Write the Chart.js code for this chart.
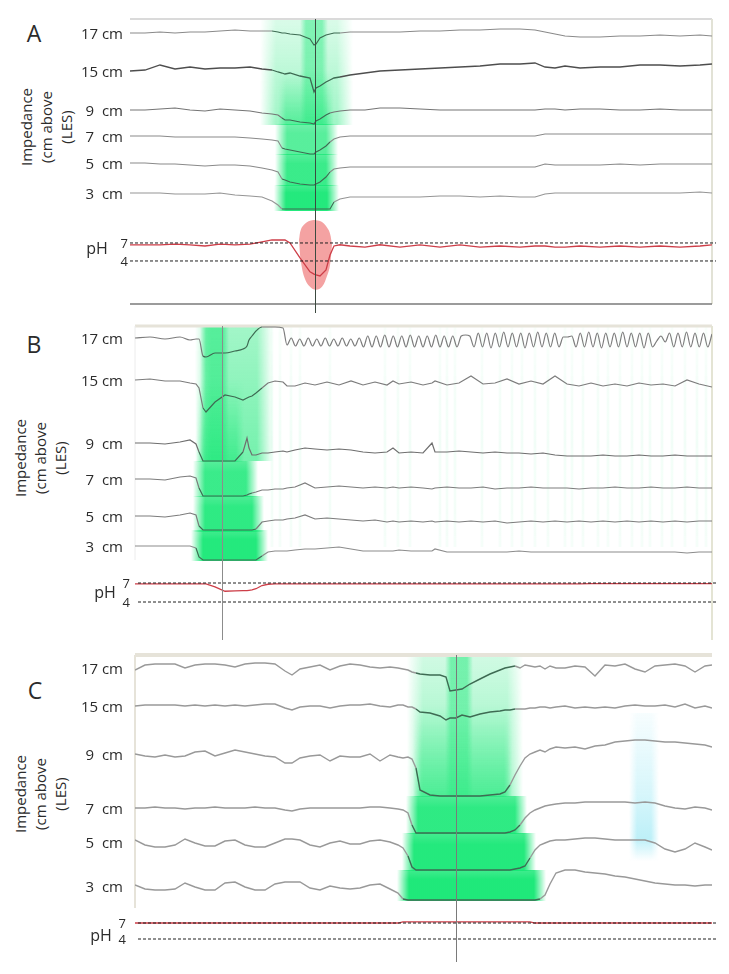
<!DOCTYPE html>
<html>
<head>
<meta charset="utf-8">
<title>Impedance-pH tracings</title>
<script src="https://cdn.jsdelivr.net/npm/chart.js@4.4.1/dist/chart.umd.min.js"></script>
<style>
  html, body { margin: 0; padding: 0; background: #fff; }
  #page { position: relative; width: 729px; height: 974px; overflow: hidden;
          font-family: "Open Sans", "Noto Sans", sans-serif; color: #2b2b2b; }
  #page canvas { position: absolute; left: 0; }
  .lbl { position: absolute; white-space: pre; font-size: 15px; line-height: 18px; transform: translateY(-50%); }
  .chan { width: 80px; text-align: right; }
  .tick { width: 40px; text-align: right; font-size: 13px; }
  .ph { font-size: 16px; transform: translate(-50%, -50%); }
  .letter { position: absolute; font-size: 23px; line-height: 26px; transform: translate(-50%, -50%); }
  .ytitle { position: absolute; width: 110px; font-size: 15px; line-height: 20px; text-align: center;
            transform: translate(-50%, -50%) rotate(-90deg); white-space: nowrap; }
</style>
</head>
<body>
<div id="page">
  <div class="letter" style="left:34px; top:33px">A</div>
  <div class="letter" style="left:34px; top:344px">B</div>
  <div class="letter" style="left:35px; top:690px">C</div>
  <div class="ytitle" style="left:46px; top:127px">Impedance<br>(cm above<br>(LES)</div>
  <div class="ytitle" style="left:40px; top:458px">Impedance<br>(cm above<br>(LES)</div>
  <div class="ytitle" style="left:40px; top:794px">Impedance<br>(cm above<br>(LES)</div>
</div>
<script>
const channels = ['17 cm', '15 cm', '9  cm', '7  cm', '5  cm', '3  cm'];
const pHTicks = [7, 4];

// ---- panel A (time in s, traces = deflection from channel baseline)
const timeA = [0,1.5,3,4.5,6,7.5,9,10.5,12,13.2,14.2,14.8,15.2,15.5,16,17,18,18.4,18.6,19,19.6,20,20.4,21,22,23.5,25,27,29,31,33,35,37,39,40.5,41.5,42.5,43.5,45,47,49,51,53,55,57,58.2];
const a17 = [0,0,1,0,1,1,2,3,2,2,2,1,0,0,-1,-2,-6,-12,-11,-5,-2,-1,0,0,1,1,1,1,2,2,3,3,4,4,3,1,-1,-3,-4,-4,-3,-3,-2,-3,-2,-3];
const a15 = [0,1,6,2,4,2,3,3,4,2,1,-1,-2,-3,-2,-5,-7,-21,-17,-15,-11,-9,-7,-6,-4,-2,0,1,2,3,4,5,7,7,8,4,3,5,3,4,4,6,6,5,6,7];
const a9 = [0,0,1,2,0,-1,1,0,-1,-3,-4,-5,-8,-10,-10,-12,-13,-14,-11,-9,-5,-3,-2,-1,0,0,2,2,1,0,0,0,0,0,0,1,1,0,1,1,0,0,1,0,0,0];
const a7 = [0,0,0,-1,-1,-1,-1,-1,-2,-3,-4,-5,-12,-13,-14,-16,-18,-18,-16,-14,-10,-6,-3,-1,0,0,0,0,0,0,0,0,0,0,0,2,2,2,2,2,2,2,2,2,2,2];
const a5 = [0,0,-1,-1,-2,-3,-2,-2,-3,-5,-7,-9,-16,-17,-19,-21,-22,-22,-21,-19,-14,-9,-6,-5,-4,-4,-4,-4,-4,-4,-4,-4,-4,-4,-4,-1,-2,-2,-2,-2,-1,-2,-1,-1,-1,-1];
const a3 = [0,0,0,-1,-1,-1,0,-2,-3,-4,-8,-12,-16,-16,-16,-16,-16,-16,-16,-16,-16,-16,-9,-6,-4,-4,-4,-4,-4,-3,-3,-4,-3,-4,-4,-1,0,0,0,0,0,0,0,0,1,0];
const pHA = [6.7,6.7,6.7,6.8,6.7,6.5,6.8,6.7,6.8,7.2,7.5,7.5,7.5,7.5,7.0,4.5,2.2,1.8,1.7,1.5,2.5,5.0,6.5,6.7,6.5,6.3,6.7,6.3,6.7,6.3,6.7,6.3,6.5,6.3,6.5,6.5,6.3,6.3,6.5,6.3,6.5,6.3,6.5,6.3,6.5,6.7];
const blobT = [16.9,17.1,17.5,18.0,18.6,19.2,19.7,20.0,20.2];
const blobTop = [7.5,9.3,10.2,10.7,10.8,10.5,9.6,8.6,6.7];
const blobBottom = [7.5,3.8,1.0,-0.3,-0.8,-0.3,1.5,3.3,6.7];
const eventA = 18.5;
const wetA = [[15.2,20.0],[15.1,20.2],[15.1,20.2],[15.0,20.3]]; // 9, 7, 5, 3 cm
const upperA = [13.8,21.5];
const coreA = [17.3,19.5];

// ---- panel B
const timeB = [0,1.5,3,4.5,5.5,6.1,6.4,6.8,7.1,8,9,10,10.8,11.2,11.4,11.7,12.1,12.7,13.3,14,14.8,15.2,16,17,18,19.2,20.4,21.6,22.8,24,25.2,25.8,26.4,27.6,28.8,29.7,30,31.2,32.4,33.6,34.8,36,37.2,38.4,39.6,40.8,42,43.2,44.4,45.6,46.8,48,49.2,50.4,51.6,52.8,54,55.2,56.4,57.7];
const b17Head = [0,1,-1,1,-2,-1,-1,-18,-19,-15,-15,-13,-11,-8,-2,2,7,11,11,11,10];
const b17WaveStart = 15.2;
const b17WaveStep = 0.425;
const b17Wave = [-7,0,-8,-1,-8,0,-8,-1,-8,0,-8,-1,-8,0,-8,-1,-8,0,
  -9,2,-9,2,-9,3,-9,2,-9,2,-9,3,-9,2,-9,2,-9,3,-9,2,-9,2,-9,
  2,3,2,
  -9,5,-9,5,-10,5,-9,6,-9,5,-9,5,-10,5,-9,6,-9,5,-9,5,-9,
  1,1,2,
  -9,5,-9,6,-9,5,-10,5,-9,5,-9,6,-9,5,-9,5,-10,5,-9,
  -3,2,-4,
  5,-9,5,-9,6,-9,5,-9,5,-9,4];
const b15 = [0,1,-1,-1,-3,-4,-8,-28,-32,-22,-15,-17,-20,-18,-17,-16,-13,-8,-3,-1,-2,-6,-6,-3,-5,-2,-5,-1,-5,-2,-5,-1,-4,-2,-5,-3,-1,-5,-3,4,-4,-3,1,-4,-1,-4,4,-4,-6,-3,-6,-4,-6,-3,-5,-4,-6,0,-4,-7];
const b9 = [0,0,-1,1,3,-1,-9,-18,-18,-18,-18,-18,-9,5,-5,-12,-12,-10,-10,-9,-8,-9,-7,-5,-6,-7,-6,-7,-9,-10,-9,-5,-10,-9,-10,0,-9,-9,-8,-9,-10,-9,-10,-10,-11,-10,-12,-13,-13,-13,-12,-13,-13,-12,-13,-13,-12,-13,-13,-13];
const b7 = [0,0,-1,2,3,1,-9,-17,-17,-17,-17,-17,-17,-16,-15,-14,-13,-11,-11,-10,-10,-9,-8,-4,-9,-8,-7,-8,-9,-8,-9,-8,-9,-8,-9,-10,-9,-8,-9,-9,-8,-10,-9,-9,-8,-9,-9,-9,-10,-9,-9,-8,-9,-9,-8,-9,-9,-8,-9,-9];
const b5 = [0,0,-1,1,3,1,-10,-14,-14,-14,-14,-14,-14,-14,-14,-14,-13,-6,-5,-4,-4,-3,-2,1,-3,-2,-3,-4,-5,-4,-6,-5,-6,-5,-6,-5,-6,-5,-6,-5,-6,-5,-7,-6,-5,-6,-5,-6,-5,-6,-5,-6,-5,-6,-5,-6,-5,-6,-5,-5];
const b3 = [0,0,0,0,0,-2,-11,-14,-14,-14,-14,-14,-14,-14,-14,-14,-14,-10,-6,-5,-5,-5,-4,-3,-3,-2,-1,-3,-5,-5,-5,-5,-4,-5,-5,-5,-3,-6,-6,-6,-6,-6,-6,-5,-6,-6,-6,-6,-6,-6,-6,-6,-6,-6,-6,-6,-6,-7,-6,-6];
const pHB = [6.85,6.85,6.85,6.85,6.85,6.85,6.85,6.85,6.85,6.4,5.7,5.75,5.8,5.8,5.85,5.9,6.1,6.6,6.8,6.85,6.85,6.85,6.85,6.85,6.85,6.85,6.85,6.85,6.85,6.85,6.85,6.85,6.85,6.85,6.85,6.85,6.85,6.85,6.85,6.85,6.85,6.85,6.85,6.85,6.85,6.85,6.85,6.85,6.85,6.9,6.9,6.9,6.9,6.9,6.9,6.9,6.9,6.9,6.9,6.9];
const eventB = 8.7;
const wetB = [[6.5,10.5],[6.4,11.7],[6.4,12.3],[6.2,12.7]];
const upperB = [6.8,13.0];
const coreB = [6.8,9.1];
const stripesB = [13.7,14.5,15.6,16.5,19.5,25.0,26.3,27.5,30.5,31.2,32.0,34.7,36.5,37.7,38.7,40.0,41.3,43.0,43.7,44.8,46.3,47.3,48.5,49.7,50.7,51.5,52.7,53.7,55.0,56.2,57.1];

// ---- panel C
const timeC = [0,1,2,3,4,5,6,7,8,9,10,11,12,13,14,15,15.7,16.5,17.5,18.5,19.5,20.5,21.5,22.5,23.5,24.5,25.5,26.3,26.8,27.3,27.7,28.1,28.5,29.5,30.5,31.1,31.5,32.1,32.7,33.5,34.5,35.5,36.5,37,37.5,38,38.5,39,39.5,40,40.5,41,41.5,42.1,43,44,45,46,47,48,49,50,51,52,53,54,55,56,57,57.7];
const c17 = [-2,3,4,4,4,0,3,4,4,3,1,4,5,5,4,-3,-7,-1,1,3,-2,2,4,3,1,0,1,0,-1,-2,-4,-5,-6,-7,-7,-9,-23,-22,-21,-16,-11,-6,-2,0,1,2,0,3,2,1,2,-1,2,0,0,2,1,-8,3,2,4,-1,-4,2,3,4,2,-4,2,3];
const c15 = [0,1,1,1,1,0,1,0,1,0,1,0,1,2,2,-2,-4,-1,0,0,-2,0,1,1,2,0,-1,1,1,-1,-1,-3,-6,-7,-10,-14,-12,-12,-9,-11,-8,-6,-5,-4,-4,-3,-3,-3,-2,-2,-1,-1,-2,-1,0,-2,-1,-2,-1,-2,0,1,0,0,1,-1,2,-2,0,-2];
const c9 = [0,-2,-3,-1,-3,-2,2,3,-2,1,4,2,0,-2,-3,-9,-9,-4,-2,-1,-7,-2,-3,-3,0,-7,-1,-3,-4,-3,-5,-14,-36,-41,-42,-42,-42,-42,-42,-42,-42,-41,-40,-38,-31,-21,-12,-4,0,2,4,2,5,7,6,7,5,8,9,12,13,14,14,13,12,12,11,10,9,7];
const c7 = [0,0,1,0,0,-1,0,0,1,0,0,0,1,0,0,-2,-3,-1,0,0,0,0,0,0,1,1,0,-1,-2,-5,-17,-25,-25,-25,-25,-25,-25,-25,-25,-25,-25,-25,-25,-25,-24,-22,-17,-10,-5,-2,0,2,3,4,5,5,6,6,6,6,6,5,6,5,2,0,-1,1,0,-2];
const c5 = [2,-3,-5,-5,-3,3,-1,-4,-4,1,2,-3,-5,-5,-1,3,3,2,-3,-5,-1,1,-2,-2,1,2,0,-3,-6,-14,-25,-28,-28,-28,-28,-28,-28,-28,-28,-28,-28,-28,-28,-28,-28,-27,-26,-24,-16,-8,-3,-1,1,2,2,3,4,4,3,2,2,2,2,-1,-7,-10,-7,-1,-5,-8];
const c3 = [1,-3,-4,-4,-3,3,-1,-4,-4,3,4,-1,-4,-4,2,4,4,4,-2,-4,0,-2,-3,-2,1,2,-3,-7,-13,-14,-14,-14,-14,-14,-14,-14,-14,-14,-14,-14,-14,-14,-14,-14,-14,-14,-14,-14,-14,-14,-13,-9,2,13,16,16,14,13,12,10,9,7,5,3,2,1,1,0,1,1];
const pHC = [7.0,7.0,7.0,7.0,7.0,7.0,7.0,7.0,7.0,7.0,7.0,7.0,7.0,7.0,7.0,7.0,7.0,7.0,7.0,7.0,7.0,7.0,7.0,7.0,7.0,7.0,7.0,7.0,7.2,7.2,7.2,7.2,7.2,7.2,7.2,7.2,7.2,7.2,7.2,7.2,7.2,7.2,7.2,7.2,7.2,7.2,7.2,7.2,7.2,7.0,7.0,7.0,7.0,7.0,7.0,7.0,7.0,7.0,7.0,7.0,7.0,7.0,7.0,7.0,7.0,7.0,7.0,7.0,7.0,7.0];
const eventC = 32.1;
const wetC = [[28.2,37.3],[27.7,38.5],[27.3,39.5],[26.8,40.5]];
const upperC = [28.0,38.0];
const coreC = [31.3,33.5];
const cyanC = [49.8,52.0];

const page = document.getElementById('page');
const GREEN = [24, 232, 118];
const CYAN = [110, 222, 240];
const pair = (ts, vs) => vs.map((v, i) => [ts[i], v]);
const rgba = (c, a) => `rgba(${c[0]},${c[1]},${c[2]},${a})`;

// box with vertical alpha stops and soft left/right edges
function fadeBox(ctx, x0, x1, y0, y1, col, stops, soft) {
  const w = Math.ceil(x1 - x0 + 2 * soft), h = Math.ceil(y1 - y0);
  if (w <= 0 || h <= 0) return;
  const off = document.createElement('canvas');
  off.width = w; off.height = h;
  const o = off.getContext('2d');
  const gv = o.createLinearGradient(0, 0, 0, h);
  stops.forEach(([pos, a]) => gv.addColorStop(pos, rgba(col, a)));
  o.fillStyle = gv;
  o.fillRect(0, 0, w, h);
  const s = Math.min(0.45, (2 * soft) / w);
  const gh = o.createLinearGradient(0, 0, w, 0);
  gh.addColorStop(0, 'rgba(0,0,0,0)');
  gh.addColorStop(s, 'rgba(0,0,0,1)');
  gh.addColorStop(1 - s, 'rgba(0,0,0,1)');
  gh.addColorStop(1, 'rgba(0,0,0,0)');
  o.globalCompositeOperation = 'destination-in';
  o.fillStyle = gh;
  o.fillRect(0, 0, w, h);
  ctx.drawImage(off, x0 - soft, y0, w, h);
}

function makeDecor(p, drops) {
  return {
    id: 'decor',
    beforeDatasetsDraw(chart) {
      const { ctx, chartArea: ca, scales: { x, y } } = chart;
      const X = v => x.getPixelForValue(v), Y = v => y.getPixelForValue(v);
      ctx.save();
      (p.stripes || []).forEach(t => {
        fadeBox(ctx, X(t) - 0.5, X(t) + 0.5, ca.top, Y(p.rows[5]), GREEN, [[0, 0.03], [0.5, 0.07], [1, 0.05]], 1.5);
      });
      const topDrop = Y(drops[0]);
      fadeBox(ctx, X(p.upper[0]), X(p.upper[1]), ca.top, topDrop, GREEN, [[0, p.upperAlpha[0]], [1, p.upperAlpha[1]]], 8);
      fadeBox(ctx, X(p.core[0]), X(p.core[1]), ca.top, topDrop, GREEN, [[0, p.coreAlpha[0]], [1, p.coreAlpha[1]]], 3);
      fadeBox(ctx, X(p.wet[0][0]), X(p.wet[0][1]), Y(p.rows[1]), topDrop, GREEN, [[0, 0], [1, 0.55]], 4);
      for (let k = 1; k < p.wet.length; k++) {
        const a = p.bandAlpha[k - 1];
        fadeBox(ctx, X(p.wet[k][0]), X(p.wet[k][1]), Y(drops[k - 1]), Y(drops[k]) + 1, GREEN, [[0, a * 0.85], [0.3, a], [1, a]], 6);
      }
      if (p.cyan) {
        fadeBox(ctx, X(p.cyan[0]), X(p.cyan[1]), Y(p.rows[1]) + 7, Y(p.rows[4]) + 18, CYAN,
          [[0, 0.06], [0.55, 0.28], [0.85, 0.45], [1, 0]], 4);
      }
      const line = (x0, y0, x1, y1, s) => {
        ctx.strokeStyle = s.c; ctx.lineWidth = s.w;
        ctx.beginPath(); ctx.moveTo(x0, y0); ctx.lineTo(x1, y1); ctx.stroke();
      };
      const f = p.frame;
      if (f.top) line(ca.left, ca.top, ca.right, ca.top, f.top);
      if (f.left) line(ca.left, ca.top, ca.left, Y(f.left.end), f.left);
      if (f.right) line(ca.right, ca.top, ca.right, ca.bottom, f.right);
      if (f.bottom) line(ca.left, ca.bottom, ca.right, ca.bottom, f.bottom);
      ctx.restore();
    },
    afterDatasetsDraw(chart) {
      const { ctx, chartArea: ca, scales: { x } } = chart;
      const px = Math.round(x.getPixelForValue(p.event)) + 0.5;
      ctx.save();
      ctx.strokeStyle = p.lineColor;
      ctx.lineWidth = 1;
      ctx.beginPath();
      ctx.moveTo(px, ca.top);
      ctx.lineTo(px, ca.bottom + p.lineExtra);
      ctx.stroke();
      ctx.restore();
    }
  };
}

function addText(cls, text, left, top) {
  const d = document.createElement('div');
  d.className = cls;
  d.textContent = text;
  d.style.left = left + 'px';
  d.style.top = top + 'px';
  page.appendChild(d);
}

function makePanel(p) {
  const cv = document.createElement('canvas');
  cv.width = 729;
  cv.height = p.height;
  cv.style.top = p.top + 'px';
  page.appendChild(cv);

  const drops = p.wet.map((iv, k) => {
    const i = k + 2;
    const inside = p.traces[i].filter(([t]) => t >= iv[0] && t <= iv[1]).map(([, v]) => v);
    return p.rows[i] + Math.min(...inside);
  });

  const datasets = [];
  if (p.blob) {
    datasets.push({
      data: pair(p.blob.t, p.blob.top).map(([t, v]) => ({ x: t, y: v })),
      yAxisID: 'ph', borderWidth: 0, pointRadius: 0, tension: 0.4, order: 6
    });
    datasets.push({
      data: pair(p.blob.t, p.blob.bottom).map(([t, v]) => ({ x: t, y: v })),
      yAxisID: 'ph', borderWidth: 0, pointRadius: 0, tension: 0.4, order: 6,
      fill: '-1', backgroundColor: 'rgba(238,105,105,0.62)'
    });
  }
  p.traces.forEach((tr, i) => {
    const zone = i < 2 ? p.upper : p.wet[i - 2];
    const smooth = p.smooth && p.smooth[i];
    datasets.push({
      label: channels[i],
      data: tr.map(([t, v]) => ({ x: t, y: p.rows[i] + v })),
      yAxisID: 'y', order: 5,
      borderColor: p.colors[i], borderWidth: p.widths[i],
      pointRadius: 0, tension: smooth ? 0.4 : 0,
      cubicInterpolationMode: smooth ? 'monotone' : 'default',
      segment: {
        borderColor: c => {
          const m = (c.p0.parsed.x + c.p1.parsed.x) / 2;
          return m > zone[0] && m < zone[1] ? '#3e6b53' : undefined;
        }
      }
    });
  });
  datasets.push({
    label: 'pH',
    data: p.pH.map(([t, v]) => ({ x: t, y: v })),
    yAxisID: 'ph', order: 3,
    borderColor: 'rgb(205,62,72)', borderWidth: 1.3, pointRadius: 0, tension: 0
  });
  pHTicks.forEach(v => {
    datasets.push({
      data: [{ x: p.dash[0], y: v }, { x: p.dash[1], y: v }],
      yAxisID: 'ph', order: 2, clip: false,
      borderColor: '#1e1e1e', borderWidth: 1, borderDash: [3, 2], pointRadius: 0
    });
  });

  const chart = new Chart(cv, {
    type: 'line',
    data: { datasets },
    options: {
      responsive: false,
      animation: false,
      events: [],
      layout: { padding: p.pad },
      plugins: { legend: { display: false }, tooltip: { enabled: false } },
      scales: {
        x: { type: 'linear', display: false, min: 0, max: p.xMax },
        y: { type: 'linear', display: false, min: p.yMin, max: 0 },
        ph: { type: 'linear', display: false, min: p.phMin, max: p.phMax }
      }
    },
    plugins: [makeDecor(p, drops)]
  });

  const ys = chart.scales.y, ph = chart.scales.ph;
  channels.forEach((name, i) => addText('lbl chan', name, 43, p.top + ys.getPixelForValue(p.rows[i])));
  addText('lbl ph', 'pH', p.phLabel.x, p.top + ph.getPixelForValue(p.phLabel.at));
  pHTicks.forEach(v => addText('lbl tick', String(v), p.tickRight - 40, p.top + ph.getPixelForValue(v)));
  return chart;
}

makePanel({
  top: 0, height: 322, pad: { top: 19, bottom: 18, left: 130, right: 17 },
  xMax: 58.2, yMin: -285, phMin: -3.17, phMax: 44.33,
  rows: [-14, -52, -91, -117, -144, -174],
  traces: [pair(timeA, a17), pair(timeA, a15), pair(timeA, a9), pair(timeA, a7), pair(timeA, a5), pair(timeA, a3)],
  pH: pair(timeA, pHA),
  blob: { t: blobT, top: blobTop, bottom: blobBottom },
  event: eventA, wet: wetA, upper: upperA, core: coreA,
  upperAlpha: [0.16, 0.42], coreAlpha: [0.45, 0.35], bandAlpha: [0.72, 0.85, 0.95],
  colors: ['#8a8a8a', '#4e4e4e', '#757575', '#8a8a8a', '#8a8a8a', '#959595'],
  widths: [1.1, 1.3, 1.1, 1.1, 1.1, 1.1],
  dash: [0, 58.6],
  frame: { top: { c: '#dadada', w: 2 }, right: { c: '#e2e2d6', w: 2 }, bottom: { c: '#7a7a7a', w: 1.5 } },
  lineColor: '#3c4a40', lineExtra: 9,
  phLabel: { x: 97, at: 6.2 }, tickRight: 128
});

makePanel({
  top: 322, height: 323, pad: { top: 4, bottom: 5, left: 135, right: 17 },
  xMax: 57.7, yMin: -314, phMin: -2.0, phMax: 47.58,
  rows: [-12, -54, -117, -153, -190, -220],
  traces: [
    pair(timeB, b17Head).concat(b17Wave.map((v, i) => [b17WaveStart + i * b17WaveStep, v])),
    pair(timeB, b15), pair(timeB, b9), pair(timeB, b7), pair(timeB, b5), pair(timeB, b3)
  ],
  smooth: [true, false, false, false, false, false],
  pH: pair(timeB, pHB),
  event: eventB, wet: wetB, upper: upperB, core: coreB, stripes: stripesB,
  upperAlpha: [0.4, 0.6], coreAlpha: [0.55, 0.45], bandAlpha: [0.85, 0.9, 0.95],
  colors: ['#7c7c7c', '#7c7c7c', '#6e6e6e', '#7c7c7c', '#7c7c7c', '#8c8c8c'],
  widths: [1.2, 1.2, 1.2, 1.2, 1.2, 1.2],
  dash: [0.3, 58.3],
  frame: { top: { c: '#e6e3d9', w: 3 }, left: { c: '#ececec', w: 1, end: -234 }, right: { c: '#e4e4d4', w: 2 } },
  lineColor: '#8c8c8c', lineExtra: 0,
  phLabel: { x: 105, at: 5.58 }, tickRight: 130
});

makePanel({
  top: 645, height: 329, pad: { top: 10, bottom: 12, left: 135, right: 17 },
  xMax: 57.7, yMin: -307, phMin: -0.31, phMax: 57.25,
  rows: [-13, -51, -99, -153, -187, -231],
  traces: [pair(timeC, c17), pair(timeC, c15), pair(timeC, c9), pair(timeC, c7), pair(timeC, c5), pair(timeC, c3)],
  pH: pair(timeC, pHC),
  event: eventC, wet: wetC, upper: upperC, core: coreC, cyan: cyanC,
  upperAlpha: [0.2, 0.5], coreAlpha: [0.5, 0.3], bandAlpha: [0.9, 0.95, 0.97],
  colors: ['#999', '#999', '#999', '#999', '#999', '#999'],
  widths: [1.4, 1.4, 1.4, 1.4, 1.4, 1.4],
  dash: [0.3, 58.3],
  frame: { top: { c: '#e6e3d9', w: 4 }, left: { c: '#e6e3d9', w: 2, end: -253 } },
  lineColor: '#7a7a7a', lineExtra: 0,
  phLabel: { x: 101, at: 4.75 }, tickRight: 126
});
</script>
</body>
</html>
